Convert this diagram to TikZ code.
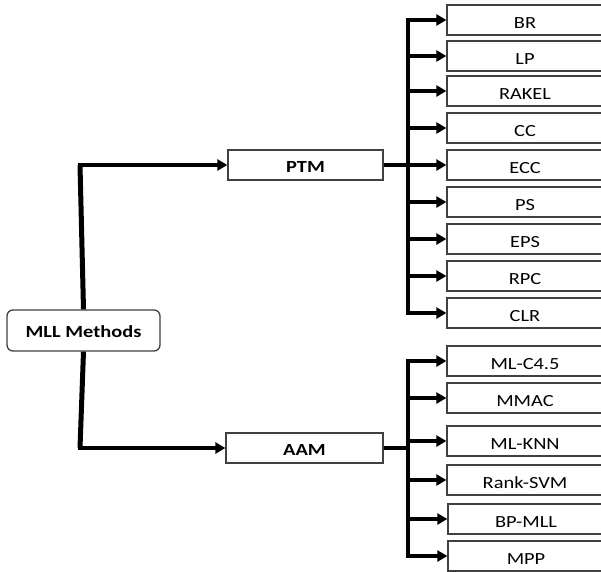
\documentclass[tikz,border=0pt]{standalone}
\usepackage{fontspec}
\setmainfont{Carlito}
\newfontfamily\labfont[FakeStretch=1.2]{Carlito}
\usetikzlibrary{arrows.meta}
\tikzset{
  box/.style={draw=black!75, line width=1.3pt, fill=white, minimum height=30pt, inner sep=0pt, text height=16pt, text depth=0pt, font=\labfont\fontsize{17}{19}\selectfont},
  leaf/.style={box, minimum width=156pt},
  mid/.style={box, font=\labfont\bfseries\fontsize{17}{19}\selectfont, text height=15pt},
  conn/.style={line width=3.5pt, black},
  arr/.style={conn, -{Triangle[length=10pt,width=11pt]}, shorten >=0pt},
}
\begin{document}
\begin{tikzpicture}[x=1pt,y=-1pt]
\useasboundingbox (0,0) rectangle (601,571);
\clip (0,0) rectangle (601,571);
% root
\node[box, rounded corners=6pt, minimum width=153pt, minimum height=41pt, text height=14pt, font=\labfont\bfseries\fontsize{17}{19}\selectfont] (mll) at (83.5,330.5) {MLL Methods};
% middle
\node[mid, minimum width=155pt] (ptm) at (305.5,165) {PTM};
\node[mid, minimum width=157pt] (aam) at (304.5,448) {AAM};
% PTM leaves
\node[leaf] (br) at (525,20) {BR};
\node[leaf] (lp) at (525,56) {LP};
\node[leaf] (rakel) at (525,91) {RAKEL};
\node[leaf] (cc) at (525,128) {CC};
\node[leaf] (ecc) at (525,165) {ECC};
\node[leaf] (ps) at (525,202) {PS};
\node[leaf] (eps) at (525,239) {EPS};
\node[leaf] (rpc) at (525,276) {RPC};
\node[leaf] (clr) at (525,313) {CLR};
% AAM leaves
\node[leaf] (mlc) at (525,361) {ML-C4.5};
\node[leaf] (mmac) at (525,398) {MMAC};
\node[leaf] (mlknn) at (525,441) {ML-KNN};
\node[leaf] (rsvm) at (525,480) {Rank-SVM};
\node[leaf] (bpmll) at (526,519) {BP-MLL};
\node[leaf] (mpp) at (526,556) {MPP};
% buses
\coordinate (pb) at (408,165);
\coordinate (ab) at (408,448);
% root connectors
\draw[conn, line width=5pt] (mll.north) -- (80,165);
\draw[arr] (78,165) -- (ptm.west);
\draw[conn, line width=5pt] (mll.south) -- (80,448);
\draw[arr] (78,448) -- (aam.west);
% PTM bus
\draw[conn] (ptm.east) -- (pb);
\draw[conn, line cap=rect] (pb |- br.west) -- (pb |- clr.west);
\foreach \n in {br,lp,rakel,cc,ecc,ps,eps,rpc,clr}
  \draw[arr] (pb |- \n.west) -- (\n.west);
% AAM bus
\draw[conn] (aam.east) -- (ab);
\draw[conn, line cap=rect] (ab |- mlc.west) -- (ab |- mpp.west);
\foreach \n in {mlc,mmac,mlknn,rsvm,bpmll,mpp}
  \draw[arr] (ab |- \n.west) -- (\n.west);
\end{tikzpicture}
\end{document}
